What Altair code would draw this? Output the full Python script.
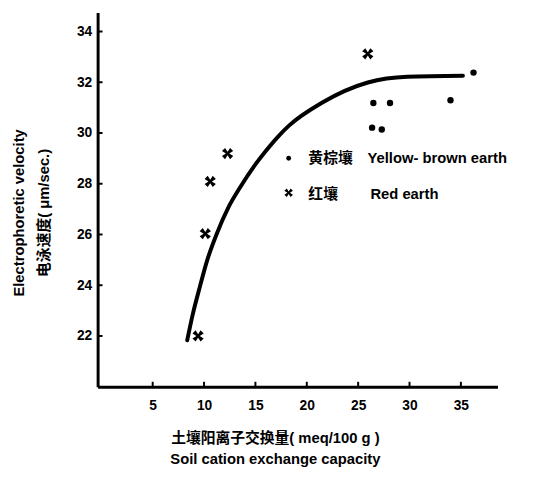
import altair as alt
import pandas as pd

# Red earth (crosses)
red_x = [9.42, 10.12, 10.6, 12.29, 25.94]
red_y = [22.0, 26.03, 28.09, 29.19, 33.12]
# Yellow-brown earth (dots)
yb_x = [26.48, 28.1, 26.36, 27.3, 33.99, 36.23]
yb_y = [31.18, 31.18, 30.21, 30.14, 31.29, 32.38]
# Fitted curve
curve_x = [8.36, 8.9, 9.6, 10.28, 11.24, 12.36, 13.47, 15.07, 16.03, 17.3, 18.27, 21.47, 25.94, 29.77, 35.2]
curve_y = [21.83, 22.85, 23.95, 24.95, 26.03, 27.06, 27.83, 28.8, 29.3, 29.9, 30.29, 31.19, 31.99, 32.22, 32.26]

x_ticks = [5, 10, 15, 20, 25, 30, 35]
y_ticks = [22, 24, 26, 28, 30, 32, 34]

legend_cn = ["黄棕壤", "红壤"]
legend_en = ["Yellow- brown earth", "Red earth"]

x_title = ["土壤阳离子交换量( meq/100 g )", "Soil cation exchange capacity"]
y_title = ["Electrophoretic velocity", "电泳速度( μm/sec.)"]

FONT = "Liberation Sans, Noto Sans CJK SC"
CJK = "Noto Sans CJK SC"
XDOM = [-0.36, 38.56]
YDOM = [20, 34.75]

CROSS = ("M-1,-0.45 L-0.45,-1 L0,-0.3 L0.45,-1 L1,-0.45 L0.3,0 L1,0.45 L0.45,1 "
         "L0,0.3 L-0.45,1 L-1,0.45 L-0.3,0 Z")

xs = alt.Scale(domain=XDOM, nice=False, zero=False)
ys = alt.Scale(domain=YDOM, nice=False, zero=False)

red_df = pd.DataFrame({"x": red_x, "y": red_y})
yb_df = pd.DataFrame({"x": yb_x, "y": yb_y})
curve_df = pd.DataFrame({"x": curve_x, "y": curve_y})

base_x = alt.X("x:Q", scale=xs, title=x_title,
               axis=alt.Axis(values=x_ticks, ticks=False, grid=False, domainWidth=3,
                             domainColor="black", labelFont=FONT, labelFontWeight="bold",
                             labelFontSize=14, labelColor="black", labelPadding=12,
                             titleFont=FONT, titleFontWeight="bold", titleFontSize=15,
                             titleColor="black", titleX=180, titleY=45, titleBaseline="top",
                             titleAlign="center", titleAnchor="start", titleLineHeight=21))
base_y = alt.Y("y:Q", scale=ys, title=y_title,
               axis=alt.Axis(values=y_ticks, ticks=False, grid=False, domainWidth=3,
                             domainColor="black", labelFont=FONT, labelFontWeight="bold",
                             labelFontSize=14, labelColor="black", labelPadding=6,
                             titleFont=FONT, titleFontWeight="bold", titleFontSize=15,
                             titleColor="black", titleX=-87, titleY=203, titleAngle=270,
                             titleBaseline="top", titleAlign="center", titleAnchor="start",
                             titleLineHeight=25))

curve = alt.Chart(curve_df).mark_line(color="black", strokeWidth=4, interpolate="monotone",
                                      strokeCap="round").encode(x=base_x, y=base_y)

red = alt.Chart(red_df).mark_point(shape=CROSS, filled=True, color="black", size=130,
                                   opacity=1).encode(x=alt.X("x:Q", scale=xs), y=alt.Y("y:Q", scale=ys))
yb = alt.Chart(yb_df).mark_point(shape="circle", filled=True, color="black", size=42,
                                 opacity=1).encode(x=alt.X("x:Q", scale=xs), y=alt.Y("y:Q", scale=ys))

# inward axis ticks
xt_df = pd.DataFrame({"x": x_ticks})
yt_df = pd.DataFrame({"y": y_ticks})
xt = alt.Chart(xt_df).mark_rule(color="black", strokeWidth=2).encode(
    x=alt.X("x:Q", scale=xs), y=alt.value(380), y2=alt.value(375))
yt = alt.Chart(yt_df).mark_rule(color="black", strokeWidth=2).encode(
    y=alt.Y("y:Q", scale=ys), x=alt.value(0), x2=alt.value(5))

# legend drawn inside the plot
one = pd.DataFrame({"k": [0]})
leg_sym_yb = alt.Chart(one).mark_point(
    shape="circle", filled=True, color="black", size=24, opacity=1).encode(
    x=alt.value(194), y=alt.value(148))
leg_sym_red = alt.Chart(one).mark_point(
    shape=CROSS, filled=True, color="black", size=75, opacity=1).encode(
    x=alt.value(194), y=alt.value(183))
leg_cn1 = alt.Chart(one).mark_text(text=legend_cn[0], font=CJK, fontWeight="bold", fontSize=15,
                                   align="left", baseline="middle", color="black").encode(
    x=alt.value(214), y=alt.value(148))
leg_cn2 = alt.Chart(one).mark_text(text=legend_cn[1], font=CJK, fontWeight="bold", fontSize=15,
                                   align="left", baseline="middle", color="black").encode(
    x=alt.value(214), y=alt.value(184))
leg_en1 = alt.Chart(one).mark_text(text=legend_en[0], font="Liberation Sans", fontWeight="bold",
                                   fontSize=15, align="left", baseline="middle", color="black").encode(
    x=alt.value(274), y=alt.value(148))
leg_en2 = alt.Chart(one).mark_text(text=legend_en[1], font="Liberation Sans", fontWeight="bold",
                                   fontSize=15, align="left", baseline="middle", color="black").encode(
    x=alt.value(277), y=alt.value(184))

chart = alt.layer(curve, xt, yt, red, yb, leg_sym_yb, leg_sym_red,
                  leg_cn1, leg_cn2, leg_en1, leg_en2).properties(
    width=406, height=380,
    padding={"left": 91, "top": 1, "right": 30, "bottom": 80},
    autosize=alt.AutoSizeParams(type="none"),
    background="white",
).configure_view(stroke=None)

chart.save("out.html", embed_options={"renderer": "svg", "actions": False})
